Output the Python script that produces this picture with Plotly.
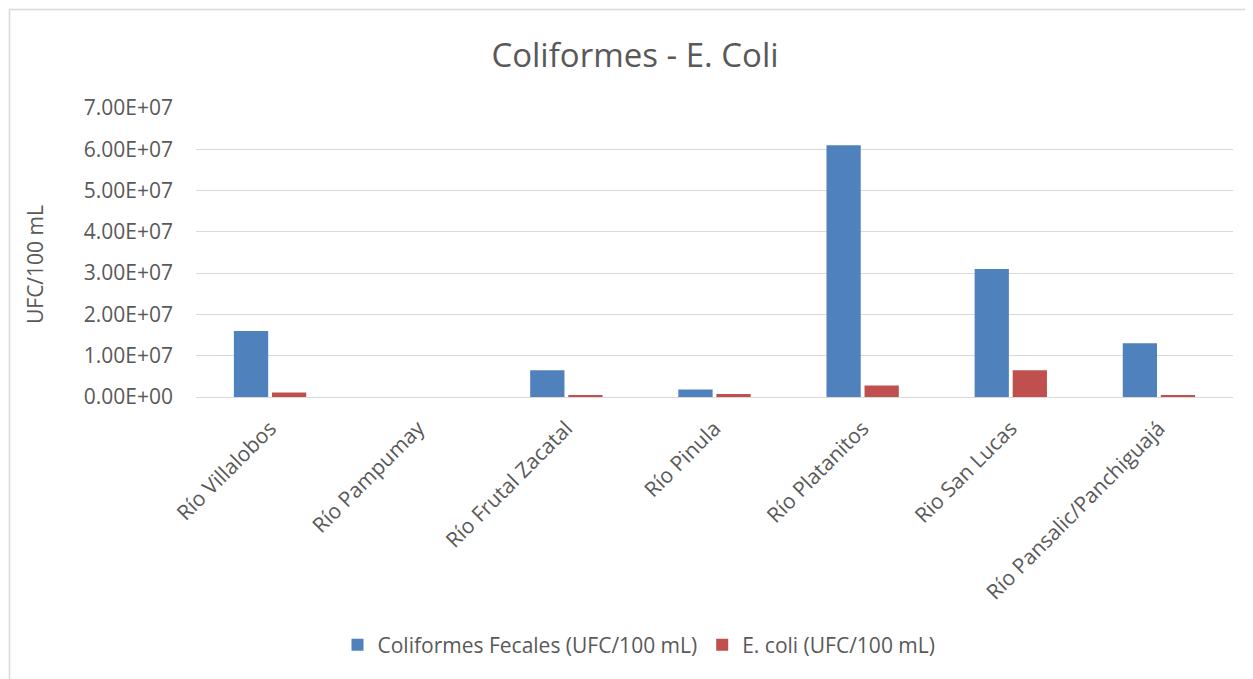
import plotly.graph_objects as go

rivers = ['Río Villalobos', 'Río Pampumay', 'Río Frutal Zacatal', 'Río Pinula',
          'Río Platanitos', 'Rio San Lucas', 'Río Pansalic/Panchiguajá']
coliformes = [1.6e7, 0, 6.5e6, 1.8e6, 6.1e7, 3.1e7, 1.3e7]
ecoli = [1.1e6, 0, 5e5, 7e5, 2.8e6, 6.5e6, 4e5]
y_ticks = [0, 1e7, 2e7, 3e7, 4e7, 5e7, 6e7, 7e7]

# page body adds an 8px offset, so work in screen pixels minus 8
OFF = 8
W, H = 1253 - OFF, 679 - OFF
ML, MR, MT, MB = 196 - OFF, 20, 108 - OFF, 282
FONT = 'Open Sans'
GREY = '#595959'


def px_x(p):
    return (p - OFF - ML) / (W - ML - MR)


def px_y(p):
    return (H - MB - (p - OFF)) / (H - MT - MB)


fig = go.Figure()
fig.add_trace(go.Bar(x=rivers, y=coliformes, name='Coliformes Fecales (UFC/100 mL)',
                     marker=dict(color='#4F81BD', line=dict(width=0))))
fig.add_trace(go.Bar(x=rivers, y=ecoli, name='E. coli (UFC/100 mL)',
                     marker=dict(color='#C0504D', line=dict(width=0))))

fig.update_layout(
    width=W, height=H,
    margin=dict(l=ML, r=MR, t=MT, b=MB),
    paper_bgcolor='white', plot_bgcolor='white',
    font=dict(family=FONT, color=GREY),
    barmode='group', bargap=0.486, bargroupgap=0.1,
    title=dict(text='Coliformes - E. Coli', x=(635 - OFF) / W, xanchor='center',
               y=1 - (55 - OFF) / H, yanchor='middle',
               font=dict(size=33, color=GREY, family=FONT)),
    xaxis=dict(tickangle=-45, tickfont=dict(size=21, color=GREY), ticklabelstandoff=14,
               showline=False, showgrid=False, ticks=''),
    yaxis=dict(range=[0, 7e7], tickvals=y_ticks,
               ticktext=[f'{v:.2E}' for v in y_ticks],
               tickfont=dict(size=21, color=GREY), ticklabelstandoff=22,
               gridcolor='#D9D9D9', gridwidth=1, zeroline=True,
               zerolinecolor='#D9D9D9', zerolinewidth=1, showline=False),
    legend=dict(orientation='h', x=px_x(639), xanchor='center', y=px_y(645), yanchor='middle',
                font=dict(size=21, color=GREY), traceorder='normal'),
    shapes=[dict(type='rect', xref='paper', yref='paper',
                 x0=px_x(9.5), x1=px_x(1270), y0=px_y(9.5), y1=px_y(700),
                 line=dict(color='#D9D9D9', width=1.5), fillcolor='rgba(0,0,0,0)',
                 layer='below')],
    annotations=[dict(text='UFC/100 mL', textangle=-90, showarrow=False,
                      xref='paper', yref='paper', x=px_x(35), y=px_y(265),
                      xanchor='center', yanchor='middle',
                      font=dict(size=21, color=GREY))],
)

fig.write_html('out.html')
